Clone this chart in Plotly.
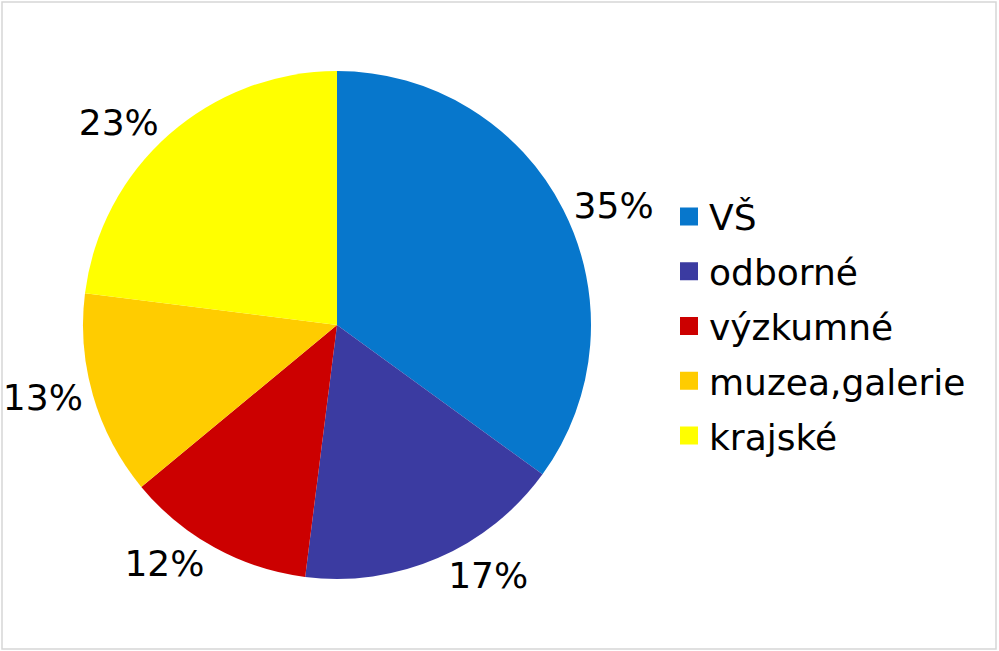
import plotly.graph_objects as go

# data
labels = ['VŠ', 'odborné', 'výzkumné', 'muzea,galerie', 'krajské']
values = [35, 17, 12, 13, 23]
colors = ['#0777CC', '#3B3BA1', '#CC0000', '#FFCC00', '#FFFF00']

W, H = 999, 651
cx, cy, r = 337, 325, 254

fig = go.Figure()

fig.add_trace(go.Pie(
    labels=labels, values=values, sort=False, direction='clockwise', rotation=0,
    marker=dict(colors=colors, line=dict(width=0)),
    textinfo='percent', texttemplate='%{percent:.0%}', textposition='outside',
    outsidetextfont=dict(size=36, color='black'),
    showlegend=False,
    domain=dict(x=[(cx - r) / W, (cx + r) / W], y=[(H - cy - r) / H, (H - cy + r) / H]),
))

# legend entries with larger square symbols
for i, (lab, col) in enumerate(zip(labels, colors)):
    fig.add_trace(go.Scatter(
        x=[None], y=[None], mode='markers', name=lab, legendgroup=str(i),
        marker=dict(symbol='square', size=16, color=col, line=dict(color=col, width=2)),
    ))

fig.update_layout(
    width=W, height=H,
    margin=dict(l=0, r=0, t=0, b=0, autoexpand=False),
    paper_bgcolor='white', plot_bgcolor='white',
    font=dict(family='DejaVu Sans, Verdana, sans-serif', size=36, color='black'),
    xaxis=dict(visible=False), yaxis=dict(visible=False),
    legend=dict(x=669 / W, y=(H - 326) / H, xanchor='left', yanchor='middle',
                traceorder='grouped', tracegroupgap=5, font=dict(size=36),
                bgcolor='rgba(0,0,0,0)'),
    shapes=[dict(type='rect', xref='paper', yref='paper',
                 x0=2 / W, x1=996 / W, y0=(H - 649) / H, y1=(H - 2) / H,
                 line=dict(color='#D6D6D6', width=1.5))],
)

fig.write_html(
    'out.html',
    config={'displayModeBar': False, 'responsive': False},
    post_script="document.documentElement.style.overflow='hidden';"
                "document.body.style.margin='0';document.body.style.overflow='hidden';",
)
